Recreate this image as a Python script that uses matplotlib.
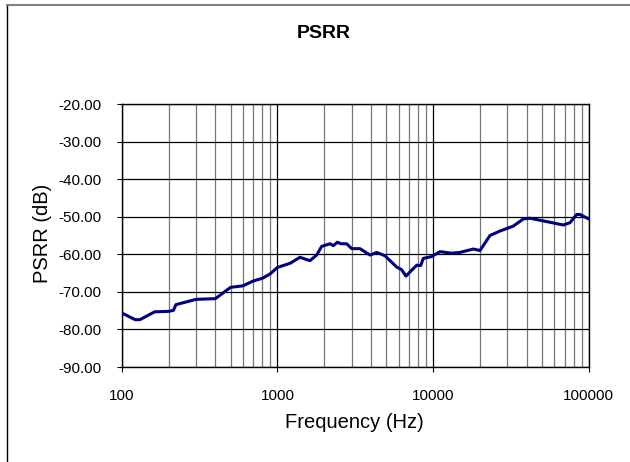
import numpy as np
import matplotlib
matplotlib.use("Agg")
import matplotlib.pyplot as plt
from matplotlib.ticker import LogLocator, FixedLocator, NullFormatter, FuncFormatter
from matplotlib.lines import Line2D

plt.rcParams['font.family'] = ['Liberation Sans', 'DejaVu Sans']

freq_hz = [100, 122, 131, 163, 200, 215, 223, 300, 400, 500, 600, 700, 800, 900,
           1000, 1205, 1397, 1619, 1787, 1924, 2177, 2288, 2427, 2560, 2786, 3000,
           3390, 3934, 4345, 4910, 5834, 6280, 6690, 7105, 7850, 8320, 8650, 9800,
           11070, 13150, 14880, 18130, 20000, 23200, 26900, 32740, 37930, 41890,
           53700, 68600, 75700, 83600, 87600, 100000]
psrr_db = [-75.6, -77.4, -77.4, -75.3, -75.2, -74.9, -73.4, -72.0, -71.8, -68.8,
           -68.4, -67.1, -66.4, -65.2, -63.5, -62.4, -60.8, -61.7, -60.2, -57.9,
           -57.2, -57.7, -56.8, -57.2, -57.2, -58.5, -58.5, -60.2, -59.5, -60.4,
           -63.4, -64.1, -65.8, -64.7, -62.9, -63.0, -61.1, -60.6, -59.3, -59.7,
           -59.5, -58.6, -59.0, -55.0, -53.8, -52.5, -50.6, -50.4, -51.3, -52.2,
           -51.6, -49.4, -49.4, -50.6]

y_ticks = [-90, -80, -70, -60, -50, -40, -30, -20]
x_ticks = [100, 1000, 10000, 100000]

W, H = 630, 462
fig = plt.figure(figsize=(W / 100, H / 100), dpi=100)
ax = fig.add_axes([121.7 / W, 1 - 367 / H, (588.8 - 121.7) / W, (367 - 104) / H])

ax.plot(freq_hz, psrr_db, color='#000080', lw=2.2, solid_joinstyle='round',
        solid_capstyle='round', zorder=3)

ax.set_xscale('log')
ax.set_xlim(100, 100000)
ax.set_ylim(-90, -20)
ax.xaxis.set_major_locator(FixedLocator(x_ticks))
ax.xaxis.set_major_formatter(FuncFormatter(lambda v, p: f"{int(round(v))}"))
ax.xaxis.set_minor_locator(LogLocator(base=10, subs=np.arange(2, 10)))
ax.xaxis.set_minor_formatter(NullFormatter())
ax.yaxis.set_major_locator(FixedLocator(y_ticks))
ax.yaxis.set_major_formatter(FuncFormatter(lambda v, p: f"{v:.2f}"))

ax.grid(True, which='major', axis='both', color='black', lw=0.9)
ax.grid(True, which='minor', axis='x', color='#777777', lw=0.9)
ax.set_axisbelow(True)

for s in ax.spines.values():
    s.set_color('black')
    s.set_linewidth(1.0)

ax.tick_params(axis='both', which='major', direction='out', length=3.5, width=0.8,
               labelsize=11, colors='black')
ax.tick_params(axis='x', which='major', pad=12)
ax.tick_params(axis='y', which='major', pad=11)
ax.tick_params(axis='x', which='minor', length=0)

fig.text(324 / W, 1 - 34 / H, 'PSRR', ha='center', va='center',
         fontsize=14, fontweight='bold')
fig.text(354 / W, 1 - 423 / H, 'Frequency (Hz)', ha='center', va='center', fontsize=14.5)
fig.text(42 / W, 1 - 233 / H, 'PSRR (dB)', ha='center', va='center', fontsize=14.5,
         rotation=90)

# chart frame (left black, top gray)
fig.add_artist(Line2D([7 / W, 7 / W], [0, 1 - 4.5 / H], transform=fig.transFigure,
                      color='black', lw=1.0))
fig.add_artist(Line2D([7 / W, 1], [1 - 4.5 / H, 1 - 4.5 / H], transform=fig.transFigure,
                      color='#808080', lw=1.5))

fig.savefig('out.png', dpi=100)
